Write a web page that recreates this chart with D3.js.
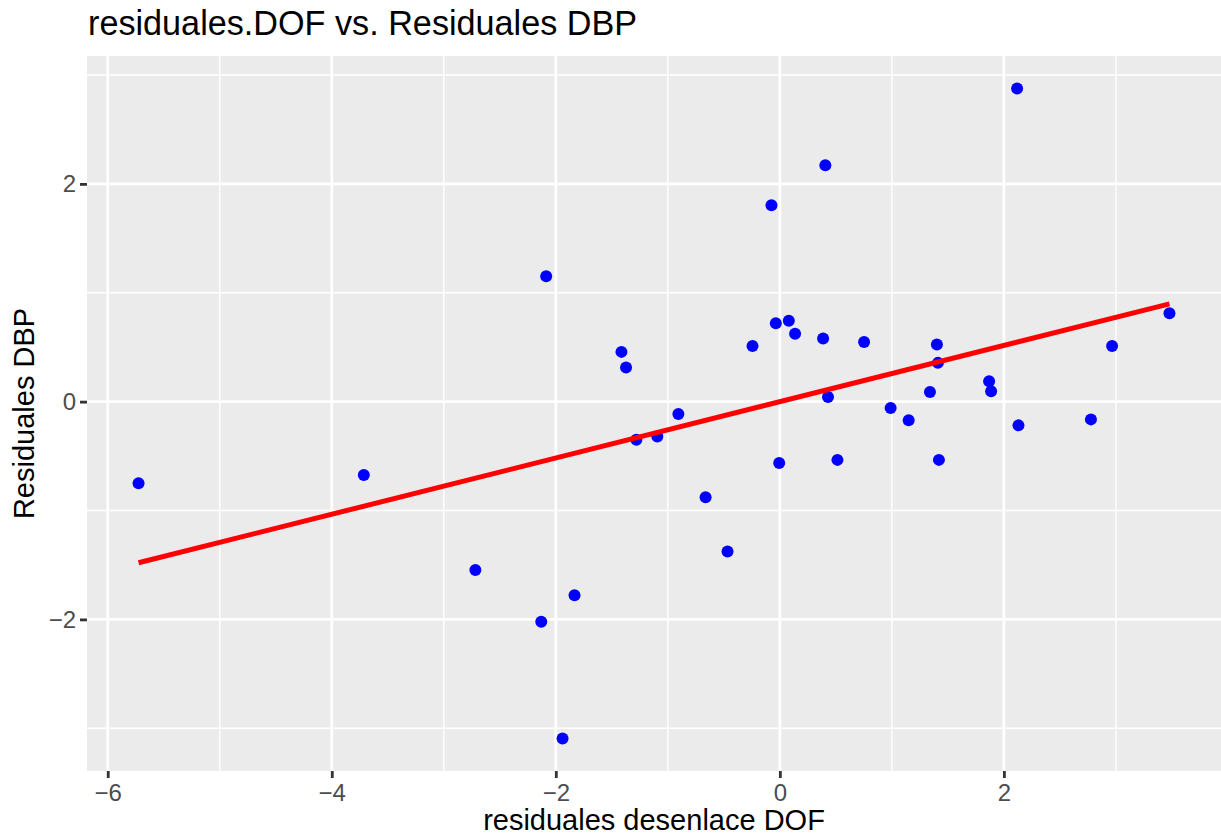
<!DOCTYPE html>
<html>
<head>
<meta charset="utf-8">
<script src="https://cdn.jsdelivr.net/npm/d3@7"></script>
<style>
  html, body { margin: 0; padding: 0; background: #fff; }
  svg { display: block; }
  text { font-family: "Liberation Sans", Arial, Helvetica, sans-serif; }
</style>
</head>
<body>
<svg id="chart" width="1221" height="837"></svg>
<script>
// Residuals of DOF outcome (x) vs. residuals of DBP (y), one entry per observation
const residDOF = [
  -5.725, -3.714, -2.718, -2.130, -2.086, -1.940, -1.833, -1.414, -1.373, -1.281,
  -1.094, -0.906, -0.663, -0.467, -0.244, -0.075, -0.036, -0.006, 0.080, 0.136,
  0.386, 0.406, 0.430, 0.514, 0.752, 0.989, 1.150, 1.340, 1.402, 1.411,
  1.420, 1.868, 1.886, 2.118, 2.130, 2.777, 2.966, 3.478
];
const residDBP = [
  -0.750, -0.673, -1.546, -2.022, 1.152, -3.094, -1.779, 0.457, 0.313, -0.350,
  -0.320, -0.114, -0.879, -1.377, 0.510, 1.803, 0.719, -0.563, 0.743, 0.623,
  0.580, 2.171, 0.043, -0.535, 0.547, -0.059, -0.172, 0.089, 0.524, 0.356,
  -0.535, 0.187, 0.095, 2.876, -0.218, -0.163, 0.510, 0.812
];
const xMajorTicks = [-6, -4, -2, 0, 2];
const xMinorTicks = [-5, -3, -1, 1, 3];
const yMajorTicks = [-2, 0, 2];
const yMinorTicks = [-3, -1, 1, 3];

const titleText = "residuales.DOF vs. Residuales DBP";
const xTitle = "residuales desenlace DOF";
const yTitle = "Residuales DBP";

const svg = d3.select("#chart");
const panel = { left: 87, right: 1221, top: 56, bottom: 771 };

// ggplot-style 5% expansion around the data range
function expanded(values) {
  const [lo, hi] = d3.extent(values);
  const pad = (hi - lo) * 0.05;
  return [lo - pad, hi + pad];
}

const x = d3.scaleLinear().domain(expanded(residDOF)).range([panel.left, panel.right]);
const y = d3.scaleLinear().domain(expanded(residDBP)).range([panel.bottom, panel.top]);

// Panel background
svg.append("rect")
  .attr("x", panel.left).attr("y", panel.top)
  .attr("width", panel.right - panel.left).attr("height", panel.bottom - panel.top)
  .attr("fill", "#EBEBEB");

const grid = svg.append("g");
const inX = v => v >= x.domain()[0] && v <= x.domain()[1];
const inY = v => v >= y.domain()[0] && v <= y.domain()[1];

grid.selectAll(".vminor").data(xMinorTicks.filter(inX)).join("line")
  .attr("x1", d => x(d)).attr("x2", d => x(d))
  .attr("y1", panel.top).attr("y2", panel.bottom)
  .attr("stroke", "#fff").attr("stroke-width", 1.4);
grid.selectAll(".hminor").data(yMinorTicks.filter(inY)).join("line")
  .attr("y1", d => y(d)).attr("y2", d => y(d))
  .attr("x1", panel.left).attr("x2", panel.right)
  .attr("stroke", "#fff").attr("stroke-width", 1.4);
grid.selectAll(".vmajor").data(xMajorTicks.filter(inX)).join("line")
  .attr("x1", d => x(d)).attr("x2", d => x(d))
  .attr("y1", panel.top).attr("y2", panel.bottom)
  .attr("stroke", "#fff").attr("stroke-width", 2.8);
grid.selectAll(".hmajor").data(yMajorTicks.filter(inY)).join("line")
  .attr("y1", d => y(d)).attr("y2", d => y(d))
  .attr("x1", panel.left).attr("x2", panel.right)
  .attr("stroke", "#fff").attr("stroke-width", 2.8);

// Axes (ticks and labels only, no domain line)
const fmt = d => (d < 0 ? "\u2212" + Math.abs(d) : String(d));

const xAxis = svg.append("g")
  .attr("transform", `translate(0,${panel.bottom})`)
  .call(d3.axisBottom(x).tickValues(xMajorTicks).tickSize(7).tickPadding(6).tickFormat(fmt));
const yAxis = svg.append("g")
  .attr("transform", `translate(${panel.left},0)`)
  .call(d3.axisLeft(y).tickValues(yMajorTicks).tickSize(7).tickPadding(4).tickFormat(fmt));

[xAxis, yAxis].forEach(a => {
  a.select(".domain").remove();
  a.selectAll(".tick line").attr("stroke", "#333333").attr("stroke-width", 2.8);
  a.selectAll(".tick text")
    .attr("fill", "#4D4D4D")
    .style("font-size", "24px")
    .style("font-family", "'Liberation Sans', Arial, sans-serif");
});
xAxis.selectAll(".tick text").attr("dy", "0.71em");

// Least-squares fit line over the data range
const mx = d3.mean(residDOF), my = d3.mean(residDBP);
let sxy = 0, sxx = 0;
residDOF.forEach((xi, i) => { sxy += (xi - mx) * (residDBP[i] - my); sxx += (xi - mx) ** 2; });
const slope = sxy / sxx;
const intercept = my - slope * mx;
const [xmin, xmax] = d3.extent(residDOF);
const fitPts = [xmin, xmax].map(v => [v, intercept + slope * v]);

// Points
svg.append("g").selectAll("circle")
  .data(residDOF.map((d, i) => [d, residDBP[i]]))
  .join("circle")
  .attr("cx", d => x(d[0])).attr("cy", d => y(d[1]))
  .attr("r", 6)
  .attr("fill", "#0000FF");

svg.append("path")
  .attr("d", d3.line().x(d => x(d[0])).y(d => y(d[1]))(fitPts))
  .attr("stroke", "#FF0000").attr("stroke-width", 5).attr("fill", "none");

// Titles
svg.append("text")
  .attr("x", 88).attr("y", 35)
  .attr("fill", "#000").style("font-size", "34.2px")
  .text(titleText);

svg.append("text")
  .attr("x", (panel.left + panel.right) / 2).attr("y", 830)
  .attr("text-anchor", "middle")
  .attr("fill", "#000").style("font-size", "29px")
  .text(xTitle);

svg.append("text")
  .attr("transform", `translate(34,${(panel.top + panel.bottom) / 2}) rotate(-90)`)
  .attr("text-anchor", "middle")
  .attr("fill", "#000").style("font-size", "29px")
  .text(yTitle);
</script>
</body>
</html>
